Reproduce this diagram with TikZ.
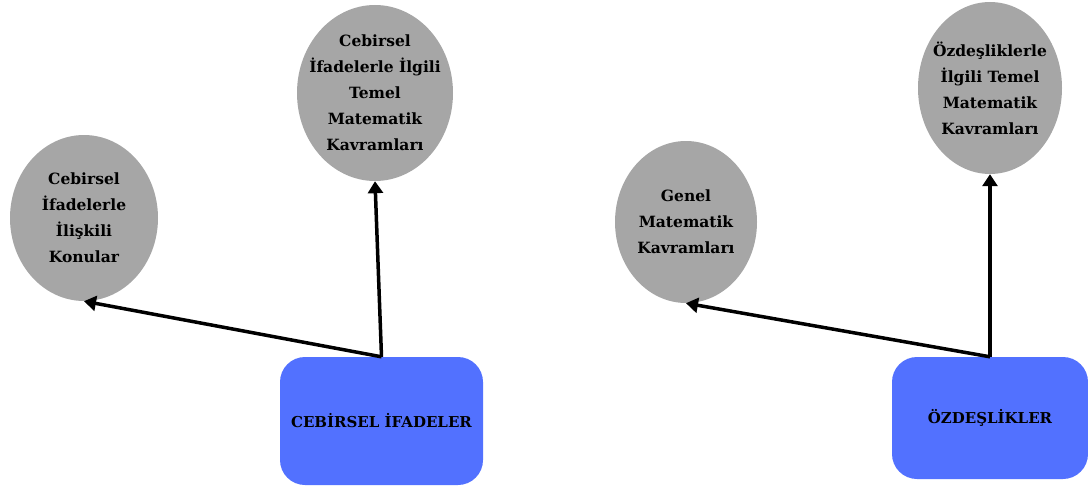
\documentclass[tikz,border=0pt]{standalone}
\usepackage{fontspec}
\setmainfont{DejaVu Serif}
\usepackage{xcolor}
\definecolor{bubblegray}{RGB}{166,166,166}
\definecolor{boxblue}{RGB}{82,113,255}
\usetikzlibrary{shapes.geometric}
\usetikzlibrary{arrows.meta}
\newcommand{\bubblefont}{\fontsize{15.5}{26}\selectfont\bfseries}
\newcommand{\topicfont}{\fontsize{15}{20}\selectfont\bfseries}
\tikzset{
    bubble/.style={ellipse, fill=bubblegray, inner xsep=-12pt, inner ysep=-14pt, align=center, font=\bubblefont},
    topic/.style={rectangle, rounded corners=25pt, fill=boxblue, align=center, font=\topicfont},
    link/.style={-{Triangle[length=12pt, width=15pt]}, line width=3.5pt, black}
}
\begin{document}
\begin{tikzpicture}[x=1pt, y=-1pt]
    \useasboundingbox (0,0) rectangle (1088,487);

    % left half
    \node[bubble, minimum width=148pt, minimum height=166pt] (cebir-konu) at (84,218)
        {Cebirsel\\ İfadelerle\\ İlişkili\\ Konular};
    \node[bubble, minimum width=156pt, minimum height=176pt] (cebir-temel) at (375,93)
        {Cebirsel\\ İfadelerle İlgili\\ Temel\\ Matematik\\ Kavramları};
    \node[topic, minimum width=203pt, minimum height=128pt] (cebir) at (381.5,421)
        {CEBİRSEL İFADELER};

    % right half
    \node[bubble, minimum width=142pt, minimum height=162pt] (genel) at (686,222)
        {Genel\\ Matematik\\ Kavramları};
    \node[bubble, minimum width=144pt, minimum height=172pt] (ozdes-temel) at (990,88)
        {Özdeşliklerle\\ İlgili Temel\\ Matematik\\ Kavramları};
    \node[topic, minimum width=196pt, minimum height=122pt] (ozdes) at (990,418)
        {ÖZDEŞLİKLER};

    \draw[link] (cebir.north) -- (cebir-temel.south);
    \draw[link] (cebir.north) -- (cebir-konu.south);
    \draw[link] (ozdes.north) -- (ozdes-temel.south);
    \draw[link] (ozdes.north) -- (genel.south);
\end{tikzpicture}
\end{document}
